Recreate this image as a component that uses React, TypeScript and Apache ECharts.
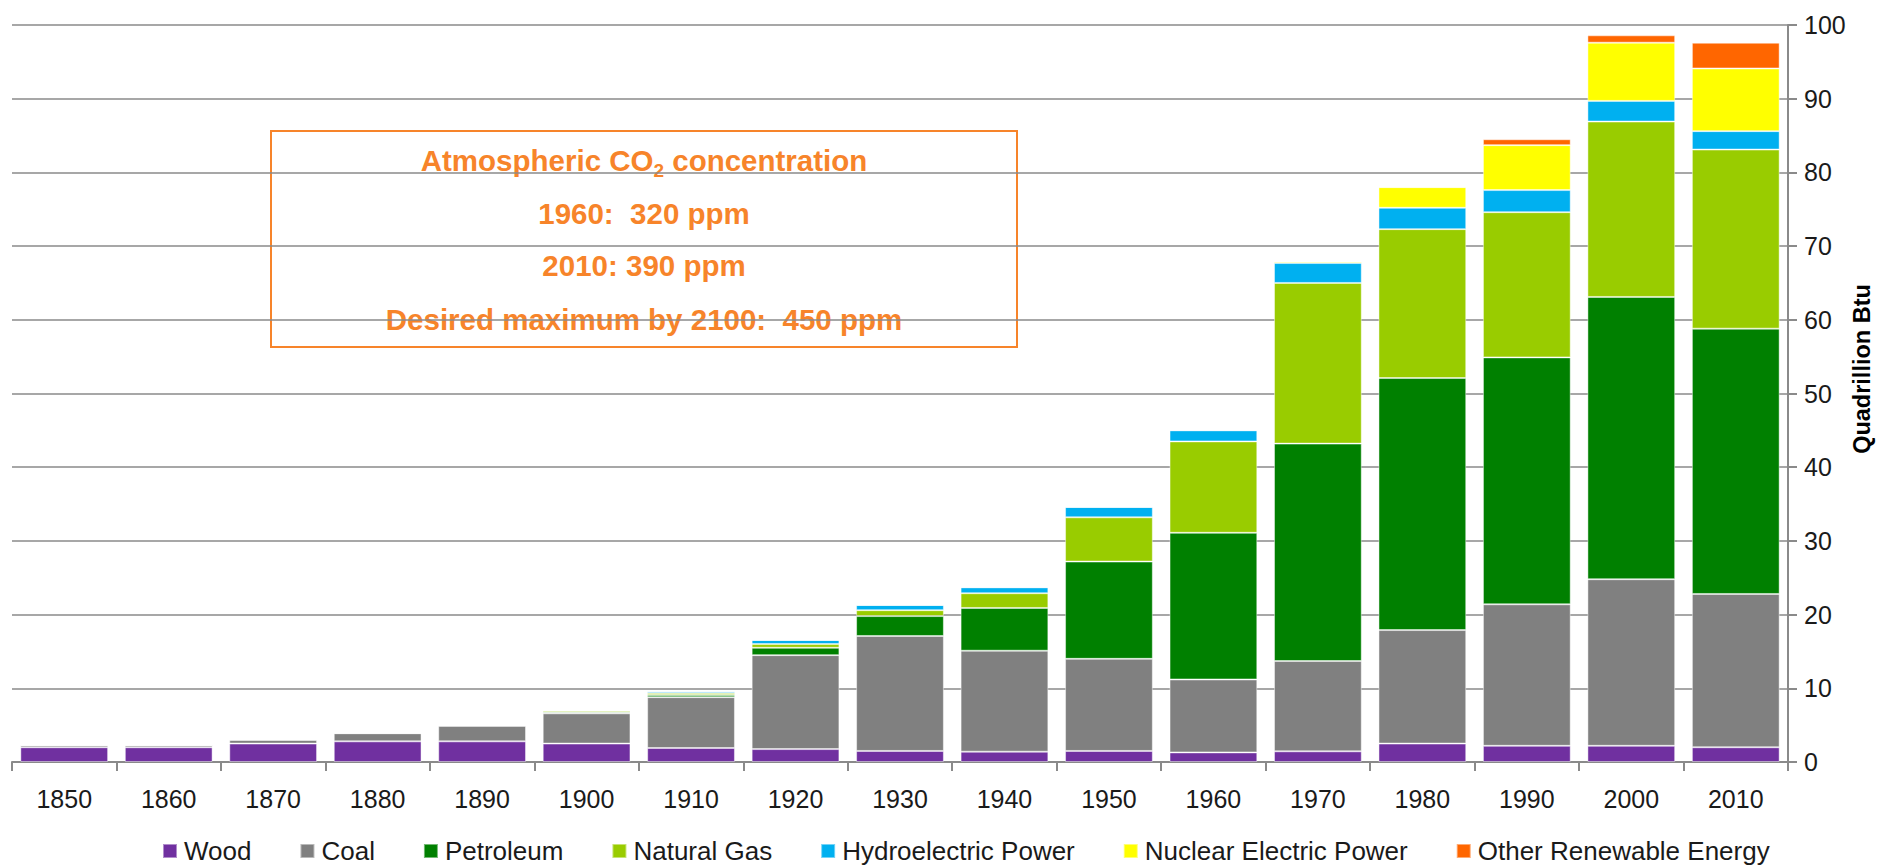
import { useEffect, useRef } from "react";
import * as echarts from "echarts";

// U.S. primary energy consumption by source, quadrillion Btu
const years = ["1850", "1860", "1870", "1880", "1890", "1900", "1910", "1920", "1930", "1940", "1950", "1960", "1970", "1980", "1990", "2000", "2010"];
const wood = [2.0, 2.0, 2.5, 2.8, 2.8, 2.5, 1.9, 1.75, 1.5, 1.4, 1.5, 1.3, 1.45, 2.5, 2.2, 2.2, 2.0];
const coal = [0.3, 0.3, 0.5, 1.1, 2.1, 4.1, 6.9, 12.75, 15.6, 13.7, 12.5, 9.9, 12.25, 15.4, 19.2, 22.6, 20.8];
const petroleum = [0, 0, 0.05, 0.05, 0.1, 0.2, 0.3, 1.0, 2.7, 5.8, 13.2, 19.9, 29.5, 34.2, 33.5, 38.3, 36.0];
const naturalGas = [0, 0, 0, 0, 0.05, 0.2, 0.25, 0.5, 0.8, 2.0, 6.0, 12.4, 21.8, 20.2, 19.7, 23.8, 24.3];
const hydroelectric = [0, 0, 0, 0, 0, 0.03, 0.25, 0.55, 0.7, 0.8, 1.4, 1.5, 2.7, 2.9, 3.0, 2.8, 2.5];
const nuclear = [0, 0, 0, 0, 0, 0, 0, 0, 0, 0, 0, 0, 0.2, 2.8, 6.1, 7.9, 8.5];
const otherRenewable = [0, 0, 0, 0, 0, 0, 0, 0, 0, 0, 0, 0, 0, 0.1, 0.8, 1.0, 3.5];

const seriesDefs = [
  { name: "Wood", data: wood, color: "#7030A0" },
  { name: "Coal", data: coal, color: "#808080" },
  { name: "Petroleum", data: petroleum, color: "#008000" },
  { name: "Natural Gas", data: naturalGas, color: "#99CC00" },
  { name: "Hydroelectric Power", data: hydroelectric, color: "#00B0F0" },
  { name: "Nuclear Electric Power", data: nuclear, color: "#FFFF00" },
  { name: "Other Renewable Energy", data: otherRenewable, color: "#FF6600" },
];

const yTicks = { min: 0, max: 100, interval: 10 };
const noteLines = ["1960:  320 ppm", "2010: 390 ppm", "Desired maximum by 2100:  450 ppm"];

const FONT = "'Liberation Sans', Arial, sans-serif";
const ORANGE = "#F7842A";

export default function App() {
  const ref = useRef<HTMLDivElement>(null);

  useEffect(() => {
    if (!ref.current) return;
    const chart = echarts.init(ref.current, undefined, { renderer: "svg" });

    const noteX = 644;
    const noteFont = 29.5;
    const option: any = {
      animation: false,
      backgroundColor: "#ffffff",
      grid: { left: 12, right: 109, top: 25, bottom: 104, containLabel: false },
      legend: {
        left: 162,
        top: 838,
        padding: 0,
        itemWidth: 14,
        itemHeight: 14,
        itemGap: 48,
        icon: "rect",
        textStyle: { fontFamily: FONT, fontSize: 26, lineHeight: 26, color: "#1a1a1a", padding: [0, 0, 0, 2] },
        data: seriesDefs.map((s) => s.name),
      },
      xAxis: {
        type: "category",
        data: years,
        axisLine: { lineStyle: { color: "#8a8a8a", width: 2 } },
        axisTick: { show: true, length: 9, lineStyle: { color: "#8a8a8a", width: 2 } },
        axisLabel: { fontFamily: FONT, fontSize: 25, color: "#1a1a1a", margin: 24 },
      },
      yAxis: {
        type: "value",
        position: "right",
        min: yTicks.min,
        max: yTicks.max,
        interval: yTicks.interval,
        axisLine: { show: true, lineStyle: { color: "#8a8a8a", width: 2 } },
        axisTick: { show: true, length: 9, lineStyle: { color: "#8a8a8a", width: 2 } },
        axisLabel: { fontFamily: FONT, fontSize: 25, color: "#1a1a1a", margin: 16 },
        splitLine: { show: true, lineStyle: { color: "#8a8a8a", width: 1.6 } },
      },
      series: seriesDefs.map((s) => ({
        name: s.name,
        type: "bar",
        stack: "total",
        barCategoryGap: "16%",
        data: s.data,
        itemStyle: { color: s.color, borderColor: "rgba(255,255,255,0.45)", borderWidth: 1 },
        emphasis: { disabled: true },
      })),
      graphic: [
        {
          type: "text",
          x: 1862,
          y: 369,
          rotation: Math.PI / 2,
          style: {
            text: "Quadrillion Btu",
            fontFamily: FONT,
            fontWeight: "bold",
            fontSize: 23.5,
            fill: "#000",
            textAlign: "center",
            textVerticalAlign: "middle",
          },
        },
        {
          type: "group",
          children: [
            {
              type: "rect",
              shape: { x: 271, y: 131, width: 746, height: 216 },
              style: { fill: "#ffffff", stroke: ORANGE, lineWidth: 2 },
            },
            {
              type: "text",
              x: noteX,
              y: 160,
              style: {
                text: "{m|Atmospheric CO}{s|2}{m| concentration}",
                textAlign: "center",
                textVerticalAlign: "middle",
                fill: ORANGE,
                rich: {
                  m: { fontFamily: FONT, fontWeight: "bold", fontSize: noteFont, fill: ORANGE, lineHeight: 40, verticalAlign: "middle" },
                  s: { fontFamily: FONT, fontWeight: "bold", fontSize: 19, fill: ORANGE, lineHeight: 19, verticalAlign: "bottom" },
                },
              },
            },
            ...noteLines.map((t, i) => ({
              type: "text",
              x: noteX,
              y: [213, 265, 319][i],
              style: {
                text: t,
                fontFamily: FONT,
                fontWeight: "bold",
                fontSize: noteFont,
                fill: ORANGE,
                textAlign: "center",
                textVerticalAlign: "middle",
              },
            })),
          ],
        },
      ],
    };

    chart.setOption(option);
    return () => chart.dispose();
  }, []);

  return (
    <div
      ref={ref}
      style={{ position: "fixed", left: 0, top: 0, width: 1897, height: 866, background: "#fff" }}
    />
  );
}
